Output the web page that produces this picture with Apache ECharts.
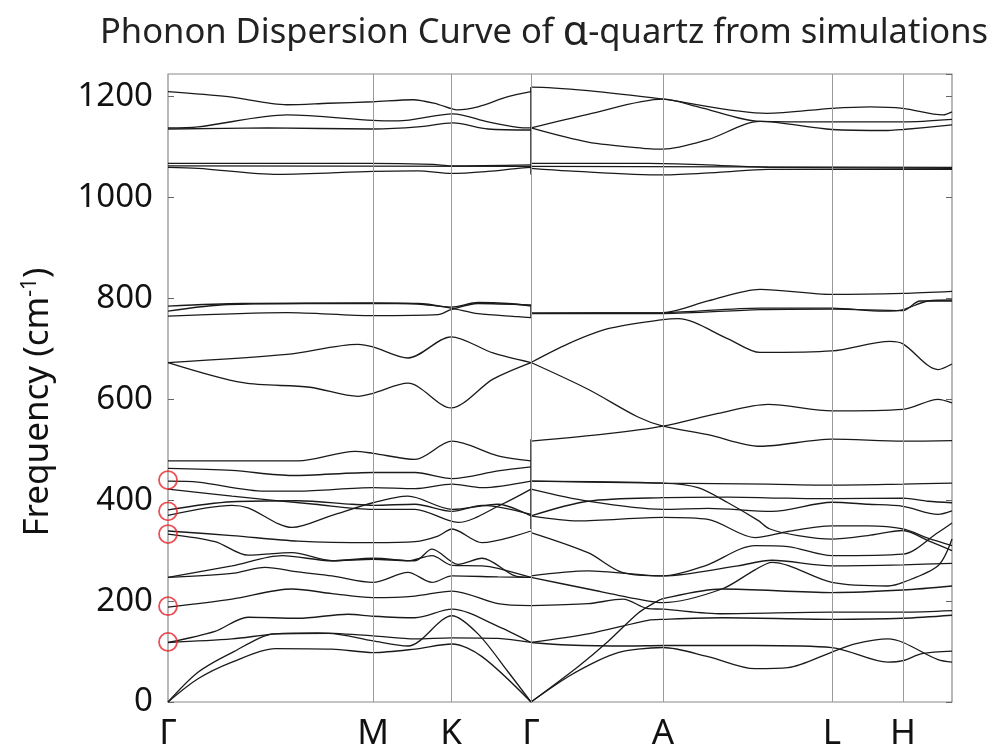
<!DOCTYPE html>
<html><head><meta charset="utf-8">
<script src="https://cdn.jsdelivr.net/npm/echarts@6/dist/echarts.min.js"></script>
<style>html,body{margin:0;padding:0;background:#fff}#c{width:995px;height:752px}</style>
</head><body><div id="c"></div>
<script>
// k-path positions (path distance units) of high-symmetry points
const pathTicks = [0, 205, 283, 363, 495, 664, 735];
const pathLabels = ['Γ', 'M', 'K', 'Γ', 'A', 'L', 'H'];
const pathEnd = 784;
const freqMax = 1245;

// bands along Γ–M–K–Γ : [path position, frequency cm-1]
const bandsGMKG = [
 [[0,1210],[60,1200],[119,1184],[160,1187],[205,1190],[245,1194],[270,1185],[289,1174],[310,1180],[340,1200],[363,1210]],
 [[0,1138],[30,1140],[119,1164],[205,1153],[230,1152],[285,1166],[320,1150],[350,1139],[363,1138]],
 [[0,1136],[100,1138],[205,1136],[250,1140],[285,1148],[320,1136],[363,1134]],
 [[0,1068],[200,1068],[265,1066],[283,1063],[363,1065]],
 [[0,1063],[363,1062]],
 [[0,1060],[30,1058],[110,1046],[205,1052],[250,1053],[283,1048],[320,1052],[350,1058],[363,1060]],
 [[0,785],[75,790],[250,790],[283,781],[310,770],[350,764],[363,762]],
 [[0,775],[60,788],[205,791],[250,789],[283,783],[310,792],[340,790],[363,785]],
 [[0,765],[119,772],[205,766],[270,768],[283,778],[310,790],[363,787]],
 [[0,673],[119,689],[190,709],[205,704],[240,682],[283,724],[325,692],[363,673]],
 [[0,673],[75,633],[142,624],[190,606],[205,612],[240,632],[283,583],[325,640],[363,673]],
 [[0,478],[130,478],[187,497],[205,493],[247,481],[284,517],[330,488],[363,478]],
 [[0,463],[64,459],[124,449],[205,455],[247,455],[284,443],[330,458],[363,466]],
 [[0,438],[30,436],[97,418],[130,418],[205,425],[247,423],[284,432],[314,425],[363,438]],
 [[0,422],[64,408],[147,392],[205,382],[247,382],[290,356],[334,392],[363,422]],
 [[0,381],[64,397],[130,399],[184,392],[205,390],[247,392],[284,378],[314,390],[363,372]],
 [[0,370],[64,390],[80,385],[124,346],[164,370],[205,395],[240,408],[284,382],[330,392],[363,369]],
 [[0,339],[64,330],[130,319],[205,316],[247,318],[270,329],[284,343],[314,316],[363,339]],
 [[0,333],[47,318],[80,291],[124,296],[164,280],[205,285],[247,280],[264,303],[290,273],[314,285],[347,250],[363,247]],
 [[0,247],[64,270],[114,290],[164,280],[205,283],[240,280],[264,290],[284,271],[314,270],[330,265],[363,247]],
 [[0,247],[64,255],[97,267],[130,258],[164,250],[205,237],[240,257],[264,237],[284,250],[330,248],[363,247]],
 [[0,188],[64,204],[124,224],[164,215],[205,207],[247,210],[284,220],[330,195],[363,191]],
 [[0,118],[47,140],[80,168],[130,166],[180,174],[205,170],[247,167],[284,184],[330,150],[363,118]],
 [[0,118],[64,125],[107,135],[150,137],[205,131],[247,125],[284,127],[330,126],[363,118]],
 [[0,0],[30,59],[64,98],[107,135],[160,136],[205,121],[240,111],[284,171],[310,135],[340,60],[363,0]],
 [[0,0],[30,46],[64,79],[107,106],[164,105],[205,98],[247,105],[284,115],[314,90],[363,0]]
];

// bands along Γ–A–L–H
const bandsGALH = [
 [[363,1210],[364,1219],[420,1212],[495,1195],[599,1167],[664,1177],[702,1180],[735,1177],[775,1164],[784,1170]],
 [[363,1138],[420,1165],[495,1195],[530,1180],[592,1151],[664,1150],[735,1150],[784,1155]],
 [[363,1138],[420,1110],[480,1097],[495,1096],[540,1115],[592,1151],[664,1135],[720,1133],[735,1135],[784,1144]],
 [[363,1068],[480,1068],[550,1064],[600,1060],[784,1058]],
 [[363,1058],[400,1053],[495,1045],[550,1050],[600,1056],[784,1056]],
 [[363,1062],[784,1060]],
 [[363,771],[495,772],[540,795],[592,818],[664,808],[735,810],[784,814]],
 [[363,771],[495,772],[592,781],[664,781],[715,775],[735,778],[760,795],[784,797]],
 [[363,770],[495,770],[592,778],[664,779],[735,776],[752,795],[784,795]],
 [[363,673],[400,710],[440,740],[495,758],[510,760],[560,720],[592,693],[664,696],[722,715],[735,710],[770,659],[784,670]],
 [[363,673],[420,620],[470,565],[495,547],[540,530],[592,507],[664,521],[735,517],[784,518]],
 [[363,517],[440,532],[495,547],[550,572],[600,590],[664,577],[735,580],[770,600],[784,593]],
 [[363,438],[420,436],[495,434],[600,432],[664,430],[735,432],[784,434]],
 [[363,438],[495,434],[530,425],[560,395],[590,360],[602,343],[630,330],[664,323],[700,330],[735,340],[760,320],[784,300]],
 [[363,422],[420,398],[495,382],[540,384],[604,378],[664,396],[700,392],[735,388],[770,372],[784,379]],
 [[363,369],[420,398],[495,405],[560,406],[620,404],[664,403],[735,404],[760,398],[784,395]],
 [[363,369],[410,359],[495,366],[540,362],[587,326],[620,338],[664,349],[700,349],[735,343],[760,325],[784,310]],
 [[363,336],[420,296],[454,257],[495,250],[537,270],[587,310],[620,308],[664,290],[735,293],[770,336],[784,355]],
 [[363,250],[420,260],[495,250],[570,270],[604,281],[664,270],[735,272],[784,275]],
 [[363,247],[420,224],[470,204],[495,197],[554,224],[587,262],[604,277],[664,237],[720,230],[735,237],[770,270],[784,323]],
 [[363,191],[420,195],[455,204],[480,185],[495,184],[554,175],[664,178],[735,178],[784,181]],
 [[363,118],[420,135],[480,162],[495,164],[554,167],[664,164],[735,166],[784,172]],
 [[363,118],[400,113],[460,111],[495,112],[587,112],[664,108],[720,79],[735,82],[754,96],[784,101]],
 [[363,0],[410,70],[440,120],[470,176],[485,195],[495,205],[554,224],[664,217],[735,222],[784,230]],
 [[363,0],[400,50],[430,82],[450,98],[470,105],[495,108],[540,90],[587,66],[620,68],[664,99],[687,115],[720,125],[770,84],[784,79]]
];

// LO-TO discontinuities at the second Γ
const lotoJumps = [[1046,1219],[762,787],[343,521]];
// modes circled in red at Γ
const markedModes = [440, 378, 333, 190, 119];

const chart = echarts.init(document.getElementById('c'), null, {renderer:'canvas'});
const FONT = 'Noto Sans';
const series = [];
series.push({
  type:'line', data:[], silent:true,
  markLine:{silent:true, symbol:'none', label:{show:false},
    lineStyle:{color:'#9a9a9a', type:'solid', width:1},
    data: pathTicks.slice(1).map(v=>({xAxis:v}))}
});
bandsGMKG.concat(bandsGALH).forEach(b=>{
  series.push({type:'line', data:b, smooth:0.3, symbol:'none', silent:true,
    lineStyle:{color:'#1a1a1a', width:1.3}, z:3});
});
lotoJumps.forEach(j=>{
  series.push({type:'line', data:[[pathTicks[3],j[0]],[pathTicks[3],j[1]]], symbol:'none', silent:true,
    lineStyle:{color:'#1a1a1a', width:1.5}, z:3});
});
series.push({type:'scatter', data:markedModes.map(f=>[0,f]), symbol:'circle', symbolSize:18, clip:false, silent:true,
  itemStyle:{color:'rgba(0,0,0,0)', borderColor:'#e3262a', borderWidth:1.8}, z:5});

chart.setOption({
  animation:false,
  backgroundColor:'#fff',
  title:{text:'Phonon Dispersion Curve of {a|α}-quartz from simulations', left:95, top:8,
    textStyle:{fontFamily:FONT, fontSize:34.5, fontWeight:'normal', color:'#222',
      rich:{a:{fontFamily:FONT, fontSize:41, color:'#222'}}}},
  grid:{left:168, right:43, top:74, bottom:48, show:true, borderColor:'#8a8a8a', borderWidth:1.2},
  xAxis:{type:'value', min:0, max:pathEnd,
    axisLine:{show:false}, axisTick:{show:false}, splitLine:{show:false},
    axisLabel:{customValues:pathTicks, formatter:(v)=>{const i=pathTicks.indexOf(v);return i>=0?pathLabels[i]:'';},
      fontFamily:FONT, fontSize:35, color:'#111', margin:15}},
  yAxis:[{type:'value', min:0, max:freqMax, interval:200,
    axisLine:{show:false}, splitLine:{show:false},
    axisTick:{show:true, inside:true, length:6, lineStyle:{color:'#666'}},
    axisLabel:{fontFamily:FONT, fontSize:33, color:'#111', margin:15, showMaxLabel:false,
      formatter:(v)=>String(v)}},
   {type:'value', position:'right', min:0, max:freqMax, interval:200,
    axisLine:{show:false}, splitLine:{show:false}, axisLabel:{show:false},
    axisTick:{show:true, inside:true, length:6, lineStyle:{color:'#666'}}}],
  graphic:[{type:'text', x:38, y:402, rotation:Math.PI/2,
    style:{text:'Frequency (cm{s|-1})', fill:'#111', font:'35px "Noto Sans"', align:'center', verticalAlign:'middle',
      rich:{s:{fontSize:21, fontFamily:FONT, verticalAlign:'top', padding:[0,0,16,0], fill:'#111'}}}}],
  series
});
</script></body></html>
